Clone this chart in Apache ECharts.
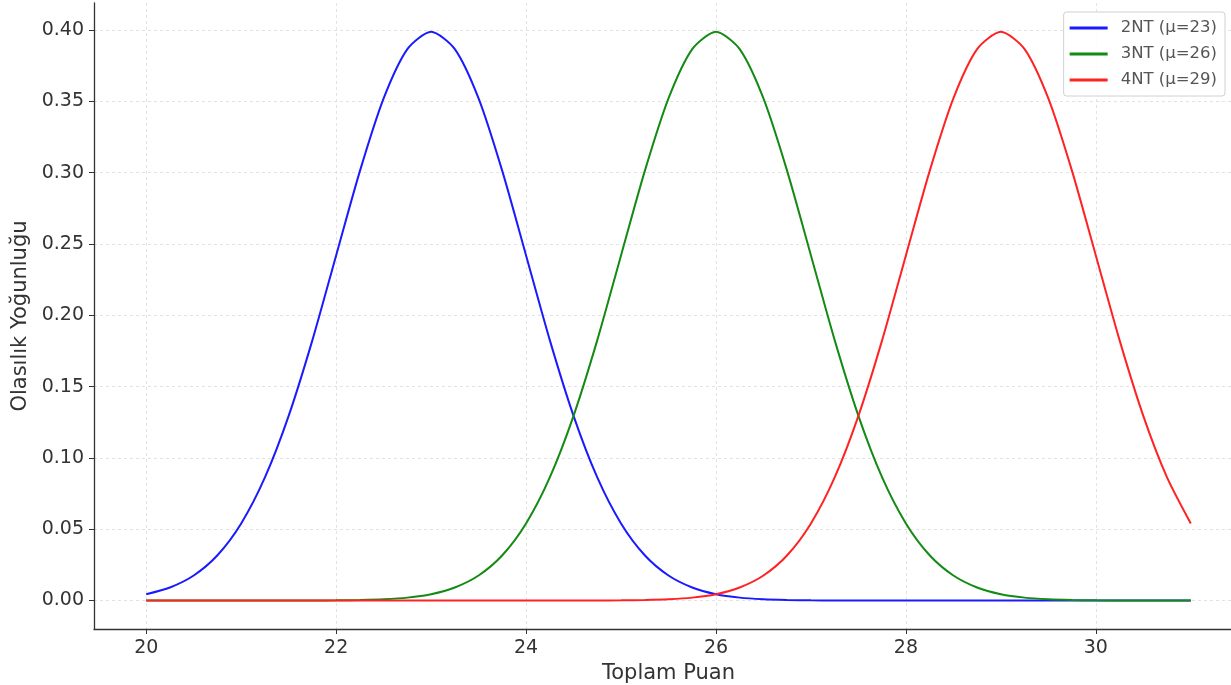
<!DOCTYPE html>
<html>
<head>
<meta charset="utf-8">
<script src="https://cdn.jsdelivr.net/npm/echarts@6/dist/echarts.min.js"></script>
<style>html,body{margin:0;padding:0;background:#fff;}#c{width:1231px;height:685px;}</style>
</head>
<body>
<div id="c"></div>
<script>
const xValues = [20,20.25,20.5,20.75,21,21.25,21.5,21.75,22,22.25,22.5,22.75,23,23.25,23.5,23.75,24,24.25,24.5,24.75,25,25.25,25.5,25.75,26,26.25,26.5,26.75,27,27.25,27.5,27.75,28,28.25,28.5,28.75,29,29.25,29.5,29.75,30,30.25,30.5,30.75,31];
const series2NT = [0.0044,0.0091,0.0175,0.0317,0.0540,0.0863,0.1295,0.1826,0.2420,0.3011,0.3521,0.3867,0.3989,0.3867,0.3521,0.3011,0.2420,0.1826,0.1295,0.0863,0.0540,0.0317,0.0175,0.0091,0.0044,0.0020,0.0009,0.0004,0.0001,0,0,0,0,0,0,0,0,0,0,0,0,0,0,0,0];
const series3NT = [0,0,0,0,0,0,0,0,0.0001,0.0004,0.0009,0.0020,0.0044,0.0091,0.0175,0.0317,0.0540,0.0863,0.1295,0.1826,0.2420,0.3011,0.3521,0.3867,0.3989,0.3867,0.3521,0.3011,0.2420,0.1826,0.1295,0.0863,0.0540,0.0317,0.0175,0.0091,0.0044,0.0020,0.0009,0.0004,0.0001,0,0,0,0];
const series4NT = [0,0,0,0,0,0,0,0,0,0,0,0,0,0,0,0,0,0,0,0,0.0001,0.0004,0.0009,0.0020,0.0044,0.0091,0.0175,0.0317,0.0540,0.0863,0.1295,0.1826,0.2420,0.3011,0.3521,0.3867,0.3989,0.3867,0.3521,0.3011,0.2420,0.1826,0.1295,0.0863,0.0540];
const xTicks = [20,22,24,26,28,30];
const yTicks = [0,0.05,0.10,0.15,0.20,0.25,0.30,0.35,0.40];
const names = ['2NT (μ=23)','3NT (μ=26)','4NT (μ=29)'];
const colors = ['#1a1aff','#138a13','#ff2222'];

const font = 'DejaVu Sans';
const chart = echarts.init(document.getElementById('c'));
const gridLine = {show:true, lineStyle:{color:'#dcdcdc', width:0.8, type:[3,3]}};
function mk(name, data, color){
  return {name, type:'line', data: xValues.map((x,i)=>[x,data[i]]), showSymbol:false, smooth:0.25,
    lineStyle:{color, width:2}, itemStyle:{color}, emphasis:{disabled:true}, z:3};
}
chart.setOption({
  animation:false,
  backgroundColor:'#fff',
  grid:{left:94, right:-12, top:3, bottom:56, outerBoundsMode:'none', containLabel:false},
  legend:{
    orient:'vertical', right:6, top:12, itemWidth:38, itemHeight:3, itemGap:6,
    icon:'rect', padding:[6,8,6,6],
    borderColor:'#d0d0d0', borderWidth:1, borderRadius:3, backgroundColor:'rgba(255,255,255,0.85)',
    textStyle:{fontFamily:font, fontSize:16.5, color:'#555', lineHeight:20, padding:[0,0,0,8]},
    data:names
  },
  xAxis:{
    type:'value', min:19.45, max:31.55,
    name:'Toplam Puan', nameLocation:'middle', nameGap:32,
    nameTextStyle:{fontFamily:font, fontSize:21, color:'#333'},
    axisLine:{show:true, onZero:false, lineStyle:{color:'#333', width:1.3}},
    axisTick:{show:true, length:5, inside:false, customValues:xTicks, lineStyle:{color:'#333'}},
    axisLabel:{customValues:xTicks, fontFamily:font, fontSize:19, color:'#333', margin:10, formatter:v=>String(v)},
    splitLine:gridLine
  },
  yAxis:{
    type:'value', min:-0.02, max:0.419,
    name:'Olasılık Yoğunluğu', nameLocation:'middle', nameGap:63, nameRotate:90,
    nameTextStyle:{fontFamily:font, fontSize:21, color:'#333'},
    axisLine:{show:true, onZero:false, lineStyle:{color:'#333', width:1.3}},
    axisTick:{show:true, length:5, customValues:yTicks, lineStyle:{color:'#333'}},
    axisLabel:{customValues:yTicks, fontFamily:font, fontSize:19, color:'#333', margin:10, formatter:v=>v.toFixed(2)},
    splitLine:gridLine
  },
  series:[mk(names[0],series2NT,colors[0]), mk(names[1],series3NT,colors[1]), mk(names[2],series4NT,colors[2])]
});
</script>
</body>
</html>
